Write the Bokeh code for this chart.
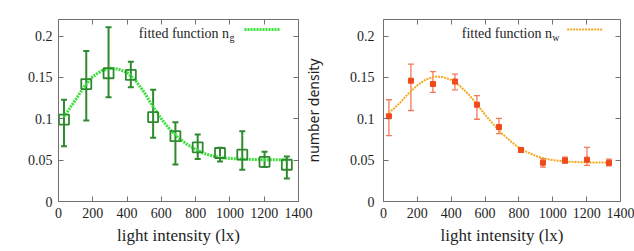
from bokeh.plotting import figure
from bokeh.models import (ColumnDataSource, Whisker, TeeHead, LinearAxis, FixedTicker,
                          CustomJSTickFormatter, CustomLabelingPolicy, Label, Arrow, Range1d)
from bokeh.layouts import row
from bokeh.embed import file_html
from bokeh.resources import INLINE

# --- measured number densities vs. light intensity -------------------------
light = [32, 162, 292, 422, 552, 682, 812, 942, 1072, 1202, 1332]

n_g = [0.099, 0.142, 0.155, 0.153, 0.102, 0.079, 0.0655, 0.0586, 0.0566, 0.048, 0.0444]
n_g_lo = [0.0667, 0.098, 0.126, 0.138, 0.077, 0.0448, 0.0513, 0.0485, 0.0384, 0.0416, 0.0279]
n_g_hi = [0.123, 0.182, 0.2105, 0.169, 0.135, 0.0958, 0.081, 0.065, 0.0848, 0.060, 0.0545]

n_w = [0.103, 0.146, 0.142, 0.145, 0.117, 0.090, 0.0622, 0.0469, 0.0497, 0.0505, 0.0469]
n_w_lo = [0.0796, 0.110, 0.132, 0.135, 0.0994, 0.082, 0.0598, 0.0416, 0.046, 0.0436, 0.0432]
n_w_hi = [0.123, 0.166, 0.157, 0.154, 0.128, 0.1006, 0.065, 0.0517, 0.0537, 0.0655, 0.0513]

# fitted curves, sampled along the intensity axis
fit_x = [30, 60, 100, 150, 200, 250, 300, 350, 400, 450, 500, 550, 600, 650,
         700, 750, 800, 850, 900, 950, 1000, 1100, 1200, 1330]
fit_g = [0.102, 0.111, 0.123, 0.139, 0.151, 0.158, 0.161, 0.160, 0.156, 0.146,
         0.132, 0.115, 0.100, 0.087, 0.077, 0.069, 0.063, 0.058, 0.055, 0.053,
         0.052, 0.051, 0.0505, 0.0505]
fit_w = [0.107, 0.112, 0.120, 0.131, 0.1405, 0.1475, 0.151, 0.1505, 0.147, 0.140,
         0.130, 0.118, 0.105, 0.093, 0.082, 0.073, 0.065, 0.0595, 0.055, 0.052,
         0.050, 0.048, 0.0473, 0.047]

x_ticks = [0, 200, 400, 600, 800, 1000, 1200, 1400]
y_ticks = [0, 0.05, 0.1, 0.15, 0.2]

SERIF = "Liberation Serif"
FRAME = "#707070"
TEXT = "#1e1e1e"

# mirror axes carry tick marks only: drop every label
NO_LABELS = """
try { for (const i of Array.from(indices)) indices.unset(i) } catch (e) {}
return indices
"""


def style_axis(ax, ticks, show_labels, standoff=6):
    ax.ticker = FixedTicker(ticks=ticks)
    ax.axis_line_color = None
    ax.major_tick_in = 5
    ax.major_tick_out = 0
    ax.major_tick_line_color = FRAME
    ax.minor_tick_line_color = None
    ax.major_label_text_font = SERIF
    ax.major_label_text_color = TEXT
    if show_labels:
        ax.major_label_text_font_size = "14px"
        ax.major_label_standoff = standoff
    else:
        ax.major_label_text_font_size = "0px"
        ax.major_label_standoff = 0
        ax.major_label_policy = CustomLabelingPolicy(code=NO_LABELS)


def make_panel(width, border_left, border_right, ylab_standoff, **kw):
    p = figure(width=width, height=251, x_range=Range1d(0, 1400), y_range=Range1d(0, 0.22),
               output_backend="svg", toolbar_location=None,
               min_border_left=border_left, min_border_right=border_right,
               min_border_top=19, min_border_bottom=50, **kw)
    p.xgrid.visible = False
    p.ygrid.visible = False
    p.outline_line_color = FRAME
    p.outline_line_width = 1
    p.background_fill_color = "white"

    bottom = p.xaxis[0]
    left = p.yaxis[0]
    style_axis(bottom, x_ticks, True, 6)
    style_axis(left, y_ticks, True, ylab_standoff)
    left.formatter = CustomJSTickFormatter(code="return String(+tick.toFixed(2));")

    bottom.axis_label = "light intensity (lx)"
    bottom.axis_label_text_font = SERIF
    bottom.axis_label_text_font_size = "17px"
    bottom.axis_label_text_font_style = "normal"
    bottom.axis_label_text_color = TEXT
    bottom.axis_label_standoff = 5

    top = LinearAxis()
    style_axis(top, x_ticks, False)
    p.add_layout(top, "above")
    right = LinearAxis()
    style_axis(right, y_ticks, False)
    p.add_layout(right, "right")
    return p


def add_key(p, sub, color, width):
    p.add_layout(Label(x=995, y=0.2033, text="fitted function n", text_align="right",
                       text_baseline="alphabetic", text_font=SERIF,
                       text_font_size="14px", text_color=TEXT))
    p.add_layout(Label(x=997, y=0.1985, text=sub, text_align="left",
                       text_baseline="alphabetic", text_font=SERIF,
                       text_font_size="10px", text_color=TEXT))
    p.add_layout(Arrow(end=None, x_start=1085, y_start=0.208, x_end=1295, y_end=0.208,
                       line_color=color, line_width=width, line_dash="2 1"))


# --- left panel: n_g ---------------------------------------------------------
GREEN_DARK = "#2f8a2f"
GREEN_FIT = "#39e039"

p1 = make_panel(320, 58, 22, 6, border_fill_color="white")
src_g = ColumnDataSource(dict(x=light, y=n_g, lo=n_g_lo, hi=n_g_hi))
p1.add_layout(Whisker(source=src_g, base="x", lower="lo", upper="hi",
                      line_color=GREEN_DARK, line_width=2,
                      lower_head=TeeHead(size=6, line_color=GREEN_DARK, line_width=2),
                      upper_head=TeeHead(size=6, line_color=GREEN_DARK, line_width=2)))
p1.line(fit_x, fit_g, line_color=GREEN_FIT, line_width=3, line_dash="2 1")
p1.scatter("x", "y", source=src_g, marker="square", size=10, fill_color=None,
           line_color=GREEN_DARK, line_width=1.8)
add_key(p1, "g", GREEN_FIT, 3)

# --- right panel: n_w --------------------------------------------------------
RED_PT = "#ee4a1c"
RED_BAR = "#f27a5a"
ORANGE_FIT = "#f4a81c"

# the right panel tucks slightly under the left one; its border is transparent
# so the left panel's last tick label stays visible
p2 = make_panel(334, 80, 14, 9, border_fill_color=None, margin=(0, 0, 0, -20))
p2.yaxis[0].axis_label = "number density"
p2.yaxis[0].axis_label_text_font = "Noto Sans"
p2.yaxis[0].axis_label_text_font_size = "14px"
p2.yaxis[0].axis_label_text_font_style = "normal"
p2.yaxis[0].axis_label_text_color = TEXT
p2.yaxis[0].axis_label_standoff = 24

src_w = ColumnDataSource(dict(x=light, y=n_w, lo=n_w_lo, hi=n_w_hi))
p2.add_layout(Whisker(source=src_w, base="x", lower="lo", upper="hi",
                      line_color=RED_BAR, line_width=1.3,
                      lower_head=TeeHead(size=6, line_color=RED_BAR, line_width=1.3),
                      upper_head=TeeHead(size=6, line_color=RED_BAR, line_width=1.3)))
p2.line(fit_x, fit_w, line_color=ORANGE_FIT, line_width=2, line_dash="2 1")
p2.scatter("x", "y", source=src_w, marker="square", size=5, fill_color=RED_PT,
           line_color=RED_PT)
add_key(p2, "w", ORANGE_FIT, 2)

layout = row(p1, p2)
open("out.html", "w").write(file_html(layout, INLINE))
